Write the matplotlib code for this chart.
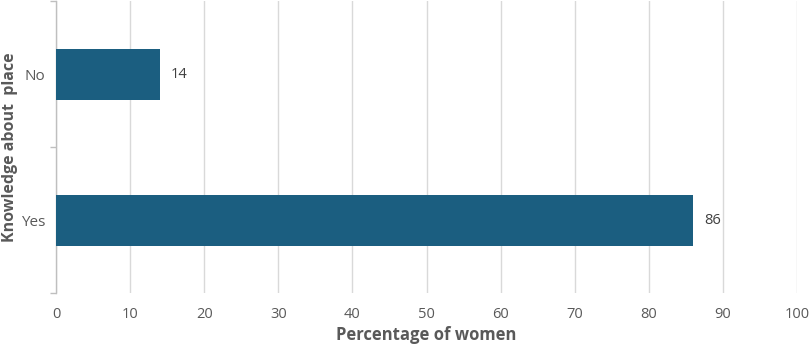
import matplotlib.pyplot as plt

categories = ["Yes", "No"]
values = [86, 14]
x_ticks = [0, 10, 20, 30, 40, 50, 60, 70, 80, 90, 100]

bar_color = "#1b5e80"
text_color = "#595959"
grid_color = "#d9d9d9"

plt.rcParams['font.family'] = ['Open Sans', 'DejaVu Sans']

fig = plt.figure(figsize=(8.12, 3.48), dpi=100)
ax = fig.add_axes([0.069, 0.158, 0.9125, 0.838])

pos = list(range(len(categories)))
ax.barh(pos, values, height=0.35, color=bar_color, zorder=3)
for p, v in zip(pos, values):
    ax.text(v + 1.5, p, str(v), va="center", ha="left", fontsize=10.5, color="#404040")

ax.set_xlim(0, 100)
ax.set_ylim(-0.5, 1.5)
ax.set_xticks(x_ticks)
ax.set_xticklabels([str(t) for t in x_ticks])
ax.set_yticks(pos)
ax.set_yticklabels(categories)
ax.set_yticks([-0.5, 0.5, 1.5], minor=True)

ax.tick_params(axis="x", length=0, pad=10, labelsize=10.5, labelcolor=text_color)
ax.tick_params(axis="y", which="major", length=0, pad=8, labelsize=11, labelcolor=text_color)
ax.tick_params(axis="y", which="minor", length=4, color="#bfbfbf", width=1)

ax.xaxis.grid(True, color=grid_color, linewidth=1, zorder=0)
ax.set_axisbelow(True)
for s in ["top", "right", "bottom"]:
    ax.spines[s].set_visible(False)
ax.spines["left"].set_color("#bfbfbf")
ax.spines["left"].set_linewidth(1)

ax.set_xlabel("Percentage of women", fontsize=12, fontweight="bold", color=text_color, labelpad=3)
ax.set_ylabel("Knowledge about  place", fontsize=11.5, fontweight="bold", color=text_color)
ax.yaxis.set_label_coords(-0.051, 0.5)

fig.savefig("out.png", dpi=100)
